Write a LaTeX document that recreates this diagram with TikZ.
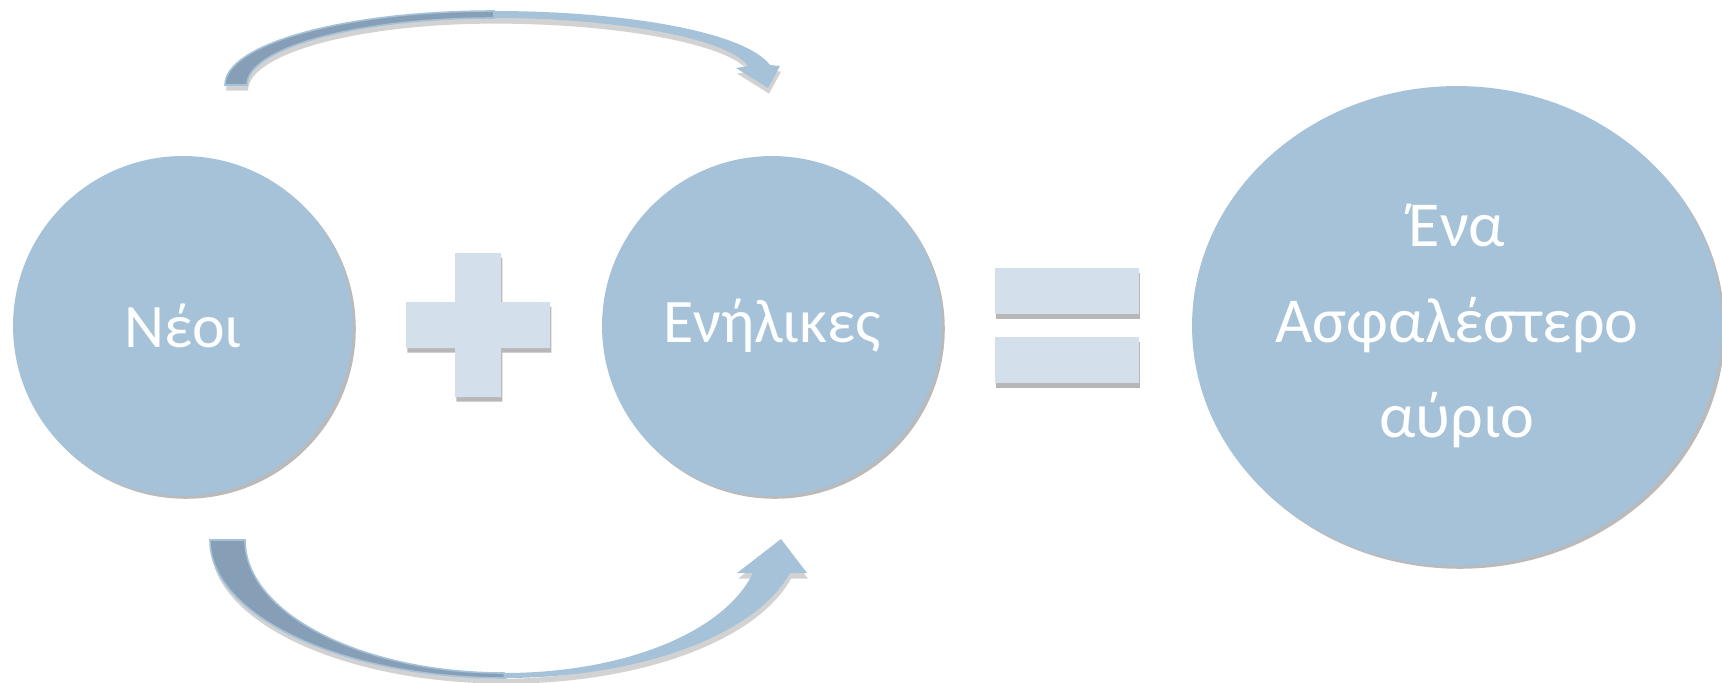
\documentclass[tikz,border=0pt]{standalone}
\usepackage{fontspec}
\setmainfont{Carlito}
\usepackage{tikz}
\usetikzlibrary{shapes.geometric,shadows}

\definecolor{bubblefill}{HTML}{A5C2D9}
\definecolor{signfill}{HTML}{D3DFEA}
\definecolor{arrowdark}{HTML}{879FB6}

\begin{document}
\begin{tikzpicture}[x=0.02cm,y=-0.02cm]
	\tikzstyle{bubble}=[circle,fill=bubblefill,text=white,inner sep=0pt,minimum size=6.8cm,
		drop shadow={shadow xshift=1.6pt,shadow yshift=-1.6pt,opacity=0.45,fill=black!60},
		font=\fontsize{35.2}{42}\selectfont]
	\tikzstyle{sign}=[fill=signfill,drop shadow={shadow xshift=0.8pt,shadow yshift=-2.6pt,opacity=0.4,fill=black!70}]
	\tikzstyle{bar}=[sign,rectangle,inner sep=0pt,minimum width=2.88cm,minimum height=0.92cm]
	\tikzstyle{band}=[fill=bubblefill,drop shadow={shadow xshift=0.6pt,shadow yshift=-3.2pt,opacity=0.25,fill=black!70}]
	\tikzstyle{backside}=[fill=arrowdark,draw=bubblefill,line width=0.9pt]
	\useasboundingbox (0,0) rectangle (1722,683);
	% circles and result
	\node[bubble] (neoi) at (183,326) {Νέοι};
	\node[bubble] (enilikes) at (772,326) {Ενήλικες};
	\node[bubble,ellipse,minimum width=10.6cm,minimum height=9.6cm,align=center,
		font=\fontsize{36.5}{54.5}\selectfont] (avrio) at (1457,326) {Ένα\\Ασφαλέστερο\\αύριο};
	% plus sign
	\path[sign] (455,253) -- (501,253) -- (501,302) -- (550,302) -- (550,348) -- (501,348)
		-- (501,397) -- (455,397) -- (455,348) -- (406,348) -- (406,302) -- (455,302) -- cycle;
	% equals sign
	\node[bar] (eqtop) at (1067,291) {};
	\node[bar] (eqbot) at (1067,360) {};
	% upper curved arrow
	\path[band] (225,85) .. controls (225,44) and (345,11) .. (494,11)
		.. controls (621,11) and (744,31) .. (770,65) -- (780,66) -- (768,88) -- (736,68) -- (748,66)
		.. controls (728,38) and (615,18) .. (494,18) .. controls (357,18) and (247,48) .. (247,85) -- cycle;
	\path[backside] (225,85) .. controls (225,44) and (345,11) .. (494,11) -- (494,18)
		.. controls (357,18) and (247,48) .. (247,85) -- cycle;
	% lower curved arrow
	\path[band] (210,540) .. controls (210,616) and (342,678) .. (505,678)
		.. controls (638,678) and (755,636) .. (790,573) -- (807,573) -- (781,539) -- (737,573) -- (753,573)
		.. controls (723,634) and (621,673) .. (504,673) .. controls (361,673) and (245,613) .. (245,540) -- cycle;
	\path[backside] (210,540) .. controls (210,616) and (342,678) .. (505,678) -- (504,673)
		.. controls (361,673) and (245,613) .. (245,540) -- cycle;
\end{tikzpicture}
\end{document}
